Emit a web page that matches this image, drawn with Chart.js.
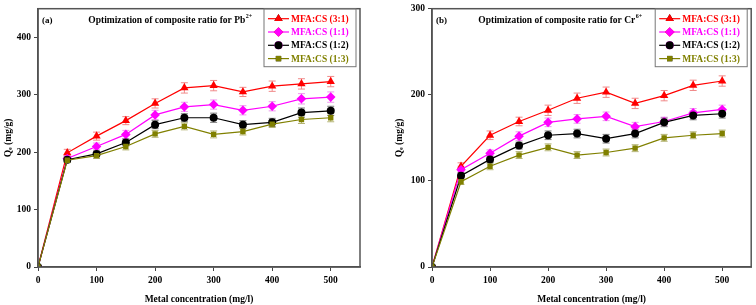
<!DOCTYPE html>
<html>
<head>
<meta charset="utf-8">
<script src="https://cdn.jsdelivr.net/npm/chart.js@4"></script>
<style>
  html, body { margin: 0; padding: 0; background: #fff; }
  #wrap { position: relative; width: 756px; height: 305px; }
  canvas { position: absolute; top: 0; }
  #chartA { left: 0; }
  #chartB { left: 378px; }
</style>
</head>
<body>
<div id="wrap">
  <canvas id="chartA" width="378" height="305"></canvas>
  <canvas id="chartB" width="378" height="305"></canvas>
</div>
<script>
// Metal concentration (mg/l)
const concentration = [0, 50, 100, 150, 200, 250, 300, 350, 400, 450, 500];

const seriesLabels = ["MFA:CS (3:1)", "MFA:CS (1:1)", "MFA:CS (1:2)", "MFA:CS (1:3)"];

// Pb2+ uptake Qe (mg/g)
const pb31 = [0, 199, 228, 255, 285, 312, 316, 305, 315, 319, 323];
const pb11 = [0, 189, 210, 231, 265, 279, 283, 273, 280, 293, 296];
const pb12 = [0, 187, 197, 217, 248, 260, 260, 248, 252, 269, 272];
const pb13 = [0, 186, 194, 210, 232, 245, 231, 236, 249, 257, 260];
const pbErr31 = [0, 6, 7, 7, 8, 9, 9, 8, 9, 9, 9];
const pbErr11 = [0, 5, 6, 7, 8, 8, 8, 8, 8, 9, 9];
const pbErr12 = [0, 5, 5, 6, 7, 7, 8, 7, 7, 8, 8];
const pbErr13 = [0, 4, 5, 6, 6, 6, 6, 6, 6, 7, 7];

// Cr6+ uptake Qe (mg/g)
const cr31 = [0, 117, 153, 169, 182, 196, 203, 190, 199, 211, 216];
const cr11 = [0, 113, 132, 152, 168, 172, 175, 163, 169, 179, 183];
const cr12 = [0, 106, 125, 141, 153, 155, 149, 155, 168, 176, 178];
const cr13 = [0, 99, 117, 130, 139, 130, 133, 138, 150, 153, 155];
const crErr31 = [0, 4, 5, 5, 6, 6, 6, 6, 6, 6, 6];
const crErr11 = [0, 4, 4, 5, 5, 5, 5, 5, 5, 5, 5];
const crErr12 = [0, 4, 4, 4, 5, 5, 5, 5, 5, 5, 5];
const crErr13 = [0, 3, 4, 4, 4, 4, 4, 4, 4, 4, 4];

const lineColors = ["#ff0000", "#ff00ff", "#000000", "#808000"];
const errColors = ["#f08a8a", "#ee96ee", "#7a7a7a", "#b4b474"];
const markers = ["triangle", "rectRot", "circle", "rect"];
const markerSize = [4.8, 4.8, 4, 3.8];

const serif = "'Liberation Serif', 'Times New Roman', serif";

function makeDatasets(values, errors) {
  return values.map((vals, i) => ({
    label: seriesLabels[i],
    data: vals.map((v, j) => ({ x: concentration[j], y: v })),
    errors: errors[i],
    borderColor: lineColors[i],
    backgroundColor: lineColors[i],
    errColor: errColors[i],
    borderWidth: 1.2,
    pointStyle: markers[i],
    pointRadius: markerSize[i],
    pointBorderWidth: 0,
    tension: 0,
    order: 4 - i
  }));
}

// error bars, drawn through the scales
const errorBars = {
  id: "errorBars",
  beforeDatasetsDraw(chart) {
    const { ctx, scales: { x, y } } = chart;
    ctx.save();
    chart.data.datasets.forEach(ds => {
      ctx.strokeStyle = ds.errColor;
      ctx.lineWidth = 1;
      ds.data.forEach((p, j) => {
        const e = ds.errors[j];
        if (!e) return;
        const px = x.getPixelForValue(p.x);
        const top = y.getPixelForValue(p.y + e);
        const bot = y.getPixelForValue(p.y - e);
        ctx.beginPath();
        ctx.moveTo(px, top); ctx.lineTo(px, bot);
        ctx.moveTo(px - 3.5, top); ctx.lineTo(px + 3.5, top);
        ctx.moveTo(px - 3.5, bot); ctx.lineTo(px + 3.5, bot);
        ctx.stroke();
      });
    });
    ctx.restore();
  }
};

// frame, panel title and legend box
const decorations = {
  id: "decorations",
  afterDraw(chart, args, opts) {
    const { ctx, chartArea: a } = chart;
    ctx.save();
    ctx.strokeStyle = "#555";
    ctx.lineWidth = 1.5;
    ctx.strokeRect(a.left, a.top, a.right - a.left, a.bottom - a.top);

    ctx.fillStyle = "#000";
    ctx.textBaseline = "middle";
    ctx.font = "bold 9px " + serif;
    ctx.textAlign = "left";
    ctx.fillText(opts.tag, a.left + 4, a.top + 12);

    // title with superscript charge
    const main = opts.title, sup = opts.sup;
    ctx.font = "bold 9.5px " + serif;
    const w1 = ctx.measureText(main).width;
    ctx.font = "bold 6px " + serif;
    const w2 = ctx.measureText(sup).width;
    let tx = opts.titleX - (w1 + w2) / 2;
    ctx.font = "bold 9.5px " + serif;
    ctx.fillText(main, tx, a.top + 12);
    ctx.font = "bold 6px " + serif;
    ctx.fillText(sup, tx + w1 + 0.5, a.top + 8);

    // legend
    const lx = a.right - opts.legendW - 4, ly = a.top;
    ctx.strokeStyle = "#777";
    ctx.lineWidth = 1;
    ctx.strokeRect(lx, ly, opts.legendW, 58);
    chart.data.datasets.forEach((ds, i) => {
      const yy = ly + 10 + i * 13.3;
      ctx.strokeStyle = ds.borderColor;
      ctx.lineWidth = 1.2;
      ctx.beginPath();
      ctx.moveTo(lx + 4, yy); ctx.lineTo(lx + 25, yy);
      ctx.stroke();
      Chart.helpers.drawPoint(ctx, {
        pointStyle: ds.pointStyle, radius: ds.pointRadius, rotation: 0, borderWidth: 0
      }, lx + 14.5, yy);
      ctx.fillStyle = ds.borderColor;
      ctx.fill();
      ctx.font = "bold 9.5px " + serif;
      ctx.textAlign = "left";
      ctx.fillText(ds.label, lx + 27, yy + 0.5);
    });
    ctx.restore();
  }
};

function makeChart(id, values, errors, yMax, yWidth, yTitlePad, rightPad, deco) {
  return new Chart(document.getElementById(id), {
    type: "line",
    data: { datasets: makeDatasets(values, errors) },
    plugins: [errorBars, decorations],
    options: {
      responsive: false,
      animation: false,
      layout: { padding: { top: 5, right: rightPad, left: 0, bottom: 0 } },
      plugins: {
        legend: { display: false },
        tooltip: { enabled: false },
        decorations: deco
      },
      scales: {
        x: {
          type: "linear",
          min: 0, max: 550,
          afterBuildTicks: s => { s.ticks = s.ticks.filter(t => t.value <= 500 && t.value % 100 === 0); },
          afterFit: s => { s.height = 38; },
          ticks: { stepSize: 100, color: "#000", padding: 4, maxRotation: 0, font: { family: serif, size: 9.5, weight: "bold" } },
          grid: { drawOnChartArea: false, drawTicks: true, tickLength: 4, color: "#444", lineWidth: 1 },
          border: { display: true, color: "#444", width: 1.5 },
          title: { display: true, text: "Metal concentration (mg/l)", color: "#000", padding: { top: 3, bottom: 0 }, font: { family: serif, size: 9.5, weight: "bold" } }
        },
        y: {
          min: 0, max: yMax,
          afterBuildTicks: s => { s.ticks = s.ticks.filter(t => t.value % 100 === 0); },
          afterFit: s => { s.width = yWidth; },
          ticks: { stepSize: 100, color: "#000", padding: 3, font: { family: serif, size: 9.5, weight: "bold" } },
          grid: { drawOnChartArea: false, drawTicks: true, tickLength: 4, color: "#444", lineWidth: 1 },
          border: { display: true, color: "#444", width: 1.5 },
          title: { display: true, text: "Q\u2091 (mg/g)", color: "#000", padding: { top: yTitlePad, bottom: 0 }, font: { family: serif, size: 9.5, weight: "bold" } }
        }
      }
    }
  });
}

makeChart("chartA", [pb31, pb11, pb12, pb13], [pbErr31, pbErr11, pbErr12, pbErr13], 450, 38, 3, 18,
  { tag: "(a)", title: "Optimization of composite ratio for Pb", sup: "2+", titleX: 170, legendW: 92 });
makeChart("chartB", [cr31, cr11, cr12, cr13], [crErr31, crErr11, crErr12, crErr13], 300, 54, 16, 2,
  { tag: "(b)", title: "Optimization of composite ratio for Cr", sup: "6+", titleX: 182, legendW: 92 });
</script>
</body>
</html>
